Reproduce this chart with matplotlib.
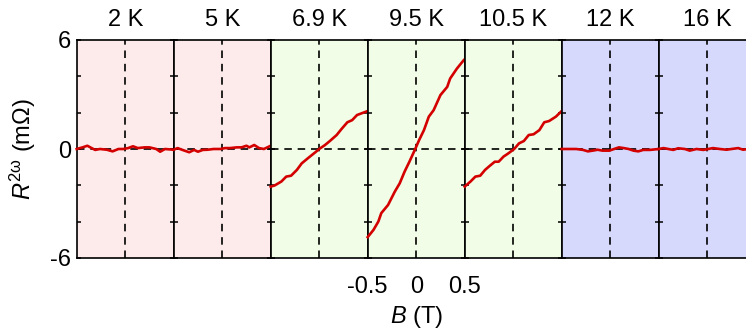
import numpy as np
import matplotlib.pyplot as plt

plt.rcParams['font.family'] = ['Liberation Sans', 'DejaVu Sans']
plt.rcParams['mathtext.fontset'] = 'custom'
plt.rcParams['mathtext.rm'] = 'Liberation Sans'
plt.rcParams['mathtext.it'] = 'Liberation Sans:italic'

# temperature labels, one panel each
temps = ['2 K', '5 K', '6.9 K', '9.5 K', '10.5 K', '12 K', '16 K']
bg_colors = ['#fcebea', '#fcebea', '#f1fde6', '#f1fde6', '#f1fde6', '#d7d9fc', '#d7d9fc']

# second-harmonic resistance (mOhm) vs field B (T)
b_2k = [-0.5, -0.44, -0.39, -0.36, -0.31, -0.26, -0.19, -0.13, -0.07, -0.02, 0.03, 0.08, 0.13, 0.20, 0.25, 0.32, 0.36, 0.41, 0.5]
r_2k = [0.0, 0.09, 0.18, 0.09, -0.05, 0.0, -0.04, -0.13, 0.0, 0.0, 0.05, 0.15, 0.05, 0.09, 0.09, 0.0, -0.15, 0.0, -0.04]

b_5k = [-0.5, -0.46, -0.41, -0.34, -0.29, -0.25, -0.20, -0.15, -0.09, -0.02, 0.03, 0.08, 0.15, 0.20, 0.25, 0.28, 0.33, 0.38, 0.43, 0.5]
r_5k = [-0.04, 0.05, -0.05, -0.18, -0.05, -0.15, -0.05, -0.04, 0.0, 0.0, 0.05, 0.05, 0.09, 0.09, 0.18, 0.09, 0.22, 0.05, 0.0, 0.18]

b_69k = [-0.5, -0.46, -0.39, -0.34, -0.29, -0.23, -0.18, -0.11, -0.04, 0.0, 0.06, 0.11, 0.18, 0.23, 0.29, 0.34, 0.39, 0.46, 0.5]
r_69k = [-2.07, -2.01, -1.79, -1.52, -1.47, -1.15, -0.79, -0.48, -0.18, 0.0, 0.22, 0.44, 0.77, 1.10, 1.47, 1.59, 1.87, 2.01, 2.09]

b_95k = [-0.5, -0.44, -0.39, -0.36, -0.29, -0.22, -0.17, -0.12, -0.07, -0.01, 0.03, 0.08, 0.13, 0.18, 0.25, 0.32, 0.35, 0.42, 0.49]
r_95k = [-4.85, -4.45, -3.99, -3.53, -3.08, -2.34, -1.89, -1.25, -0.70, 0.0, 0.49, 1.04, 1.78, 2.14, 2.97, 3.42, 3.88, 4.43, 4.89]

b_105k = [-0.5, -0.44, -0.39, -0.34, -0.29, -0.24, -0.19, -0.15, -0.10, -0.05, 0.01, 0.06, 0.11, 0.16, 0.21, 0.27, 0.32, 0.37, 0.44, 0.5]
r_105k = [-2.07, -1.79, -1.52, -1.47, -1.15, -0.92, -0.70, -0.70, -0.42, -0.24, 0.0, 0.31, 0.44, 0.77, 0.81, 1.04, 1.47, 1.54, 1.78, 2.09]

b_12k = [-0.5, -0.42, -0.35, -0.28, -0.23, -0.18, -0.13, -0.08, -0.01, 0.04, 0.09, 0.14, 0.19, 0.24, 0.29, 0.34, 0.41, 0.5]
r_12k = [0.0, 0.0, 0.0, -0.05, -0.13, -0.09, -0.04, -0.09, -0.09, 0.0, 0.09, 0.05, 0.0, -0.09, -0.13, -0.05, -0.05, 0.0]

b_16k = [-0.5, -0.45, -0.40, -0.35, -0.30, -0.23, -0.18, -0.11, -0.04, 0.01, 0.06, 0.13, 0.20, 0.25, 0.32, 0.37, 0.42]
r_16k = [0.0, 0.05, 0.0, -0.05, 0.04, 0.0, -0.09, 0.0, -0.05, 0.0, 0.05, 0.0, -0.04, 0.0, 0.05, -0.04, 0.0]

curves = [(b_2k, r_2k), (b_5k, r_5k), (b_69k, r_69k), (b_95k, r_95k),
          (b_105k, r_105k), (b_12k, r_12k), (b_16k, r_16k)]

W, H = 746, 335
fig = plt.figure(figsize=(W / 100, H / 100), dpi=100)

left_px, panel_px = 76.7, 97.0
top_px, bot_px = 40, 258
fs = 17

axes = []
for i, (temp, bg, (b, r)) in enumerate(zip(temps, bg_colors, curves)):
    ax = fig.add_axes([(left_px + i * panel_px) / W, 1 - bot_px / H,
                       panel_px / W, (bot_px - top_px) / H])
    ax.set_facecolor(bg)
    ax.set_xlim(-0.5, 0.5)
    ax.set_ylim(-6, 6)
    ax.axvline(0, color='black', lw=1.2, ls=(0, (4.5, 3.5)), zorder=1)
    ax.axhline(0, color='black', lw=1.2, ls=(0, (4.5, 3.5)), zorder=1)
    ax.plot(b, r, color='#d40000', lw=1.9, zorder=3, clip_on=False)
    for s in ax.spines.values():
        s.set_linewidth(1.2)
    ax.set_yticks([-6, -4, -2, 0, 2, 4, 6])
    ax.set_xticks([-0.5, 0, 0.5])
    ax.tick_params(axis='both', direction='in', length=3, width=1.1,
                   top=True, right=True, labelsize=fs, pad=4)
    ax.tick_params(axis='x', length=0, pad=13)
    if i == 0:
        ax.set_yticks([-6, -4, -2, 0, 2, 4, 6], ['-6', '', '', '0', '', '', '6'])
        ax.set_ylabel(r'$\mathit{R}^{\mathrm{2\omega}}$ (mΩ)', fontsize=fs, labelpad=9)
    else:
        ax.set_yticklabels([])
    if i == 3:
        ax.set_xticklabels(['-0.5', '0', '0.5'])
        ax.set_xlabel(r'$\mathit{B}$ (T)', fontsize=fs, labelpad=4)
    else:
        ax.set_xticklabels([])
    ax.set_title(temp, fontsize=fs, pad=10)
    axes.append(ax)

fig.savefig('out.png', dpi=100)
